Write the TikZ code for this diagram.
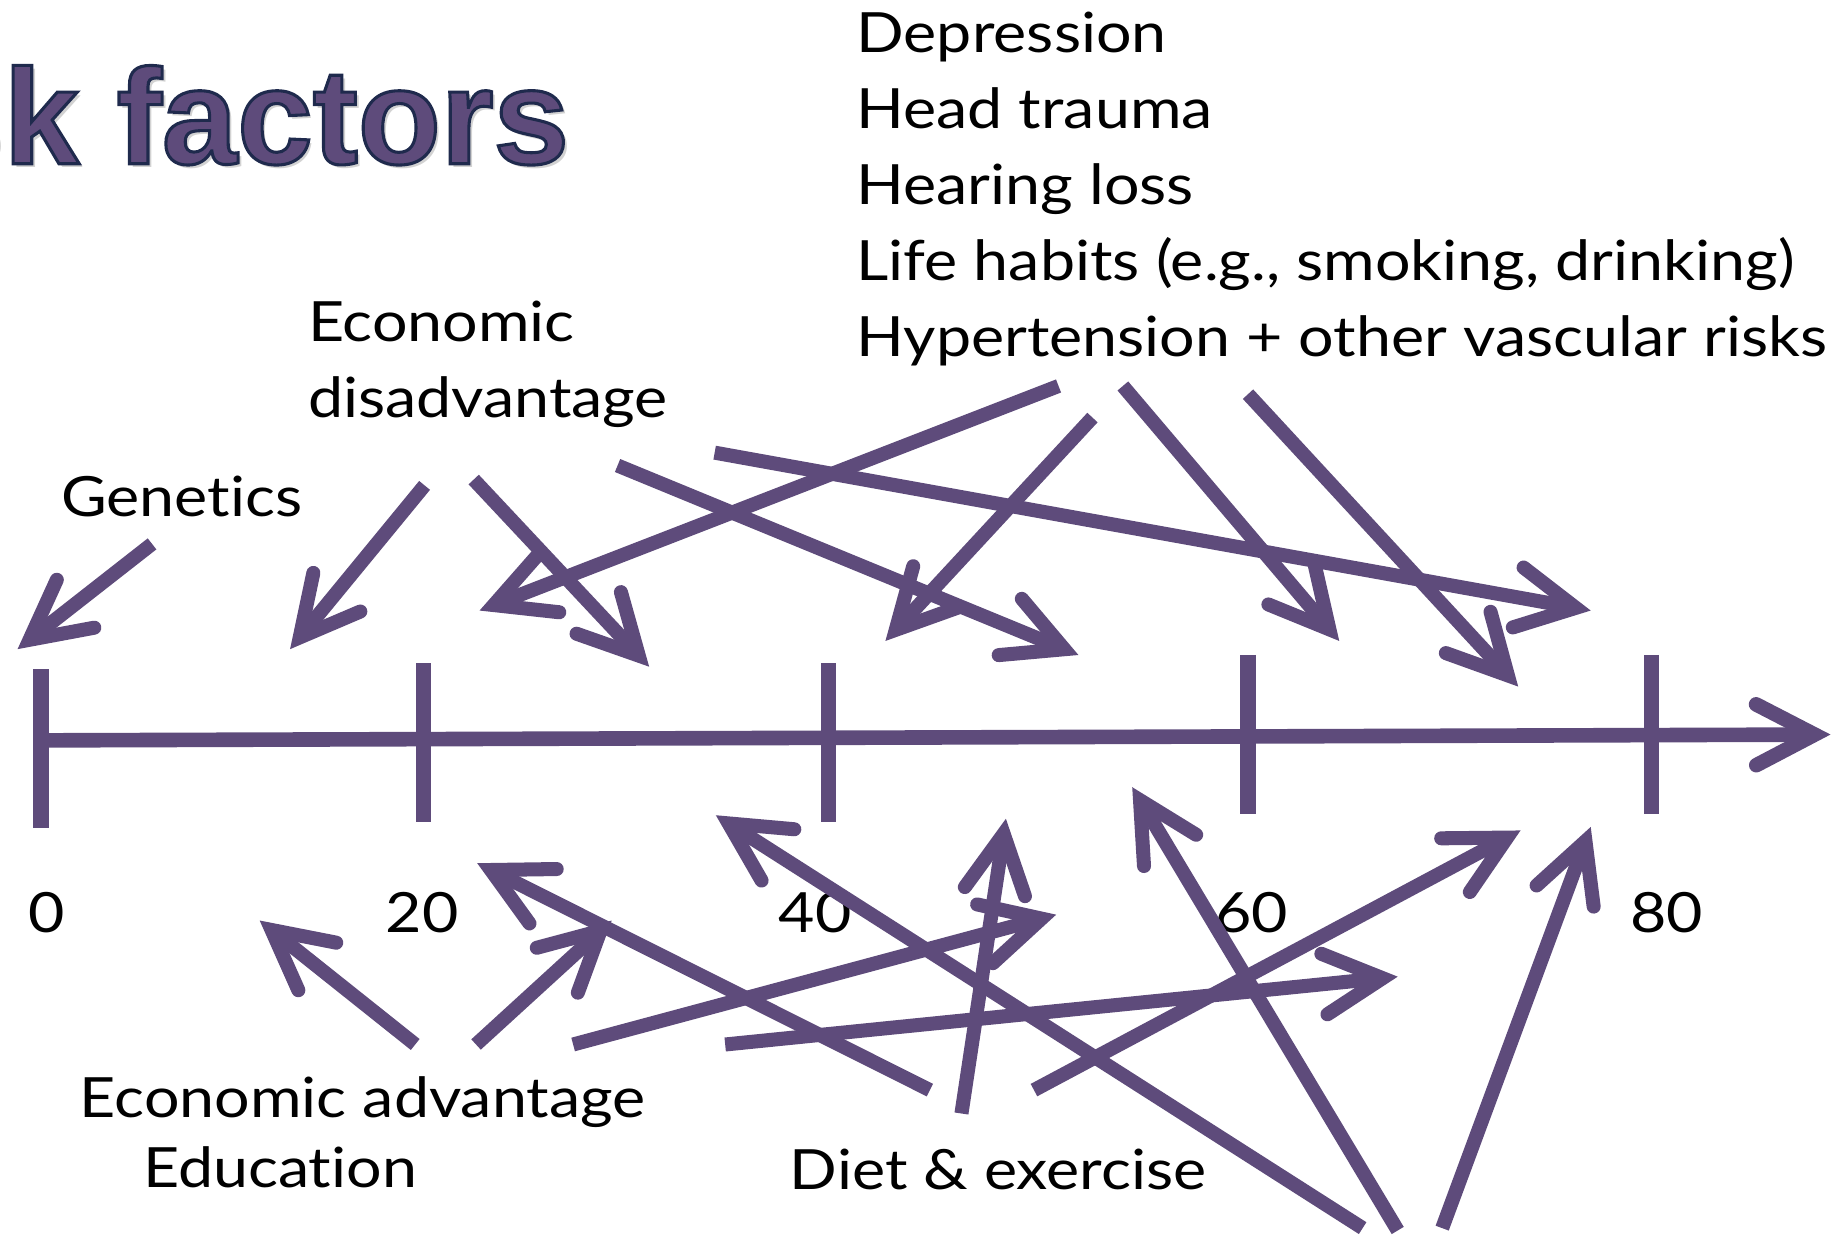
\documentclass[tikz,border=0pt]{standalone}
\usepackage{fontspec}
\setmainfont{Lato}[FakeStretch=1.13, Ligatures=NoCommon]
\newfontfamily\titlefont{Liberation Sans}
\usetikzlibrary{arrows.meta}

\definecolor{riskpurple}{HTML}{5E4B7B}

% fill the glyphs and stroke their outline in dark blue
\newcommand\outlined[1]{\special{pdf:literal direct q 2 Tr 1.5 w 0.122 0.165 0.302 RG}#1\special{pdf:literal direct Q}}

\tikzset{
  timeline/.style={line width=2.5mm, draw=riskpurple},
  tick/.style={line width=2.6mm, draw=riskpurple},
  barb/.style={-{Straight Barb[length=10mm, width=10.4mm, line cap=round, line join=miter]}},
  riskarrow/.style={line width=2.4mm, draw=riskpurple, barb},
  factor/.style={font=\fontsize{27}{33}\selectfont, inner sep=0pt, anchor=base west},
  age/.style={font=\fontsize{27}{33}\selectfont, inner sep=0pt, anchor=base},
  titletext/.style={font=\titlefont\bfseries\fontsize{66}{72}\selectfont,
    inner sep=0pt, anchor=base east},
}

\begin{document}
\begin{tikzpicture}[x=0.2mm, y=-0.2mm]

    \useasboundingbox (0,0) rectangle (1568,1057);

    % Title (runs off the left edge)
    \begin{scope}
        \clip (0,0) rectangle (1568,1057);
        \node[titletext, text=black!35, opacity=0.5] (title-shadow) at (490,143) {Risk factors};
        \node[titletext, text=riskpurple] (title) at (487,140) {\outlined{Risk factors}};
    \end{scope}

    %%%% Factors above the axis
    \node[factor] (genetics) at (52,442) {Genetics};
    \node[factor] (econ-dis) at (263,292) {Economic};
    \node[factor] (econ-dis2) at (263,357) {disadvantage};
    \foreach \txt [count=\i] in {Depression, Head trauma, Hearing loss,
        {Life habits (e.g., smoking, drinking)}, Hypertension + other vascular risks}
        \node[factor] (late\i) at (732,{45+65*(\i-1)}) {\txt};

    %%%% Factors below the axis
    \node[factor] (econ-adv) at (68,955) {Economic advantage};
    \node[factor] (education) at (122,1015) {Education};
    \node[factor] (diet) at (675,1017) {Diet \& exercise};

    % Age labels
    \foreach \x/\n in {40/0, 361/20, 697/40, 1070/60, 1425/80}
        \node[age] (age\n) at (\x,797) {\n};

    % The time axis
    \coordinate (axis-start) at (35,633);
    \coordinate (axis-end) at (1565,628);
    \draw[timeline, barb] (axis-start) -- (axis-end);

    % Ticks every 20 years
    \foreach \x/\y in {35/572, 362/567, 708/567, 1067/560, 1412/560}
        \draw[tick] (\x,\y) -- ++(0,136);

    % Arrows from each group of factors towards the ages they act on
    \foreach \n/\sx/\sy/\tx/\ty in {
        up1/130/465/15/555,
        up2/363/415/248/555,
        up3/405/410/555/570,
        up4/528/398/922/560,
        up5/611/387/1360/522,
        up6/905/330/410/522,
        up7/934/357/757/548,
        up8/960/330/1145/548,
        up9/1067/337/1298/587,
        low1/355/893/222/787,
        low2/407/893/523/787,
        low3/490/893/903/782,
        low4/620/893/1195/835,
        low5/795/932/408/738,
        low6/822/952/860/700,
        low7/884/932/1300/710,
        low8/1165/1050/612/697,
        low9/1195/1052/968/673,
        low10/1233/1050/1360/707} {
        \coordinate (\n-from) at (\sx,\sy);
        \coordinate (\n-to) at (\tx,\ty);
        \draw[riskarrow] (\n-from) -- (\n-to);
    }

\end{tikzpicture}
\end{document}
